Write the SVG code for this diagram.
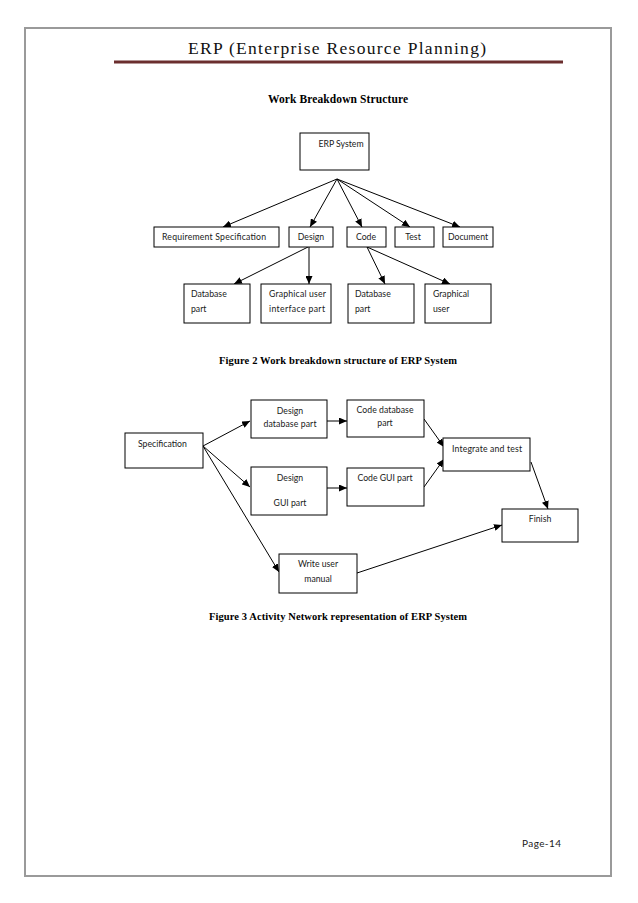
<svg xmlns="http://www.w3.org/2000/svg" width="638" height="903" viewBox="0 0 638 903">
<style>
.box{fill:#fff;stroke:#000;stroke-width:1}
.t{font-family:Lato,"Open Sans","Liberation Sans",sans-serif;font-size:8.7px;fill:#1a1a1a}
.c{text-anchor:middle}
.cap{font-family:"Liberation Serif","Times New Roman",serif;font-weight:bold;fill:#000}
.ln{stroke:#000;stroke-width:1;fill:none;marker-end:url(#ah)}
</style>
<defs>
<marker id="ah" markerUnits="userSpaceOnUse" markerWidth="8" markerHeight="7" refX="8" refY="3.5" orient="auto">
<path d="M0,0 L8,3.5 L0,7 z" fill="#000"/>
</marker>
</defs>
<rect width="638" height="903" fill="#fff"/>
<g id="page">
<rect x="25" y="28" width="586" height="848" fill="none" stroke="#9a9a9a" stroke-width="2"/>
<text x="188" y="54" textLength="298" lengthAdjust="spacing" style="font-family:'Liberation Serif','DejaVu Serif',serif;font-size:17.5px;fill:#111">ERP (Enterprise Resource Planning)</text>
<line x1="114" y1="62" x2="563" y2="62" stroke="#6b2e2e" stroke-width="3"/>
<text class="cap" x="268" y="103" textLength="140" lengthAdjust="spacing" style="font-size:11.5px">Work Breakdown Structure</text>
<text class="cap" x="219" y="364" textLength="238" lengthAdjust="spacing" style="font-size:10.5px">Figure 2 Work breakdown structure of ERP System</text>
<text class="cap" x="209" y="620" textLength="258" lengthAdjust="spacing" style="font-size:10.5px">Figure 3 Activity Network representation of ERP System</text>
<text class="t" x="522" y="847" textLength="39" lengthAdjust="spacing" style="font-size:10px">Page-14</text>
</g>
<g id="connectors">
<line class="ln" x1="337" y1="179" x2="223" y2="227"/>
<line class="ln" x1="337" y1="179" x2="310" y2="227"/>
<line class="ln" x1="337" y1="179" x2="362" y2="227"/>
<line class="ln" x1="337" y1="179" x2="410" y2="227"/>
<line class="ln" x1="337" y1="179" x2="460" y2="227"/>
<line class="ln" x1="308" y1="247" x2="234" y2="284"/>
<line class="ln" x1="309" y1="247" x2="309" y2="284"/>
<line class="ln" x1="367" y1="247" x2="385" y2="284"/>
<line class="ln" x1="367" y1="247" x2="450" y2="284"/>
<line class="ln" x1="203" y1="446" x2="250" y2="421"/>
<line class="ln" x1="203" y1="446" x2="250" y2="487"/>
<line class="ln" x1="203" y1="446" x2="279" y2="572"/>
<line class="ln" x1="327" y1="421" x2="347" y2="421"/>
<line class="ln" x1="327" y1="488" x2="347" y2="488"/>
<line class="ln" x1="424" y1="419" x2="444" y2="447"/>
<line class="ln" x1="424" y1="487" x2="444" y2="459"/>
<line class="ln" x1="531" y1="462" x2="548" y2="509"/>
<line class="ln" x1="357" y1="573" x2="502" y2="525"/>
</g>
<g id="erp-system"><rect class="box" x="300" y="133" width="69" height="37"/><text class="t c" x="341" y="147">ERP System</text></g>
<g id="req-spec"><rect class="box" x="154" y="227" width="125" height="20"/><text class="t c" x="214" y="240" textLength="104" lengthAdjust="spacing">Requirement Specification</text></g>
<g id="design"><rect class="box" x="289" y="227" width="44" height="20"/><text class="t c" x="311" y="240">Design</text></g>
<g id="code"><rect class="box" x="347" y="227" width="39" height="20"/><text class="t c" x="366" y="240">Code</text></g>
<g id="test"><rect class="box" x="395" y="227" width="39" height="20"/><text class="t c" x="413" y="240">Test</text></g>
<g id="document"><rect class="box" x="443" y="227" width="50" height="20"/><text class="t c" x="468" y="240">Document</text></g>
<g id="design-db"><rect class="box" x="184" y="284" width="66" height="39"/><text class="t" x="191" y="297">Database</text><text class="t" x="191" y="312">part</text></g>
<g id="design-gui"><rect class="box" x="261" y="284" width="70" height="39"/><text class="t" x="269" y="297" textLength="57" lengthAdjust="spacing">Graphical user</text><text class="t" x="269" y="312" textLength="56" lengthAdjust="spacing">interface part</text></g>
<g id="code-db"><rect class="box" x="348" y="284" width="66" height="39"/><text class="t" x="355" y="297">Database</text><text class="t" x="355" y="312">part</text></g>
<g id="code-gui"><rect class="box" x="425" y="284" width="66" height="39"/><text class="t" x="433" y="297">Graphical</text><text class="t" x="433" y="312">user</text></g>
<g id="specification"><rect class="box" x="125" y="433" width="78" height="35"/><text class="t" x="138" y="447">Specification</text></g>
<g id="design-database-part"><rect class="box" x="251" y="400" width="76" height="38"/><text class="t c" x="290" y="414">Design</text><text class="t c" x="290" y="427" textLength="53" lengthAdjust="spacing">database part</text></g>
<g id="code-database-part"><rect class="box" x="347" y="400" width="77" height="37"/><text class="t c" x="385" y="413" textLength="57" lengthAdjust="spacing">Code database</text><text class="t c" x="385" y="426">part</text></g>
<g id="design-gui-part"><rect class="box" x="251" y="467" width="76" height="48"/><text class="t c" x="290" y="481">Design</text><text class="t c" x="290" y="506">GUI part</text></g>
<g id="code-gui-part"><rect class="box" x="347" y="468" width="77" height="38"/><text class="t c" x="385" y="481" textLength="55" lengthAdjust="spacing">Code GUI part</text></g>
<g id="integrate"><rect class="box" x="443" y="438" width="87" height="33"/><text class="t" x="452" y="452" textLength="70" lengthAdjust="spacing">Integrate and test</text></g>
<g id="finish"><rect class="box" x="502" y="509" width="76" height="33"/><text class="t c" x="540" y="522">Finish</text></g>
<g id="write-manual"><rect class="box" x="279" y="554" width="78" height="39"/><text class="t c" x="318" y="567">Write user</text><text class="t c" x="318" y="582">manual</text></g>
</svg>
